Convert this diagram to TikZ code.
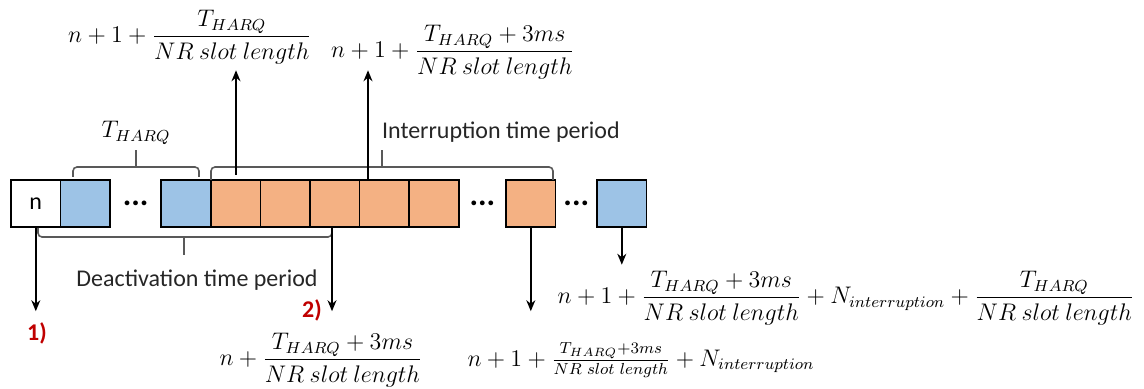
\documentclass[tikz,border=0pt]{standalone}
\usepackage{amsmath}
\usepackage{fontspec}
\setmainfont{Carlito}
\usetikzlibrary{arrows.meta,positioning,calc}

\definecolor{slotblue}{HTML}{9DC3E6}
\definecolor{slotorange}{HTML}{F4B183}
\definecolor{labelred}{HTML}{C00000}

\tikzset{
	slot/.style={draw, line width=0.8pt, minimum width=24.8pt, minimum height=23.5pt, inner sep=0pt, outer sep=0pt, font=\fontsize{12}{14}\selectfont},
	harq/.style={slot, fill=slotblue},
	intr/.style={slot, fill=slotorange},
	dots/.style={font=\bfseries\fontsize{16}{16}\selectfont, inner sep=0pt},
	bracket/.style={draw=black!65, line width=0.8pt, rounded corners=2pt},
	arr/.style={-{Stealth[length=5.5pt,width=4.5pt]}, line width=0.7pt, shorten >=2pt},
	formula/.style={font=\fontsize{12}{14}\selectfont, inner sep=1pt},
	caption/.style={font=\fontsize{12}{14}\selectfont, text=black!85},
	stepnum/.style={text=labelred, font=\bfseries\fontsize{12}{14}\selectfont}
}

\begin{document}
\begin{tikzpicture}[x=0.5pt, y=-0.5pt]
		\useasboundingbox (0,0) rectangle (1144,389);
		% slots
		\node[slot] (s0) at (35.8,203.5) {n};
		\node[harq, right=0pt of s0] (s1) {};
		\node[harq, right=25.5pt of s1] (s2) {};
		\node[intr, right=0pt of s2] (o1) {};
		\foreach \i [count=\j from 2] in {1,...,4}{
			\node[intr, right=0pt of o\i] (o\j) {};
		}
		\node[intr, right=23.6pt of o5] (o6) {};
		\node[harq, right=20.7pt of o6] (s3) {};
		\node[dots] (d1) at ($(s1.east)!0.5!(s2.west)$) {...};
		\node[dots] (d2) at ($(o5.east)!0.5!(o6.west)$) {...};
		\node[dots] (d3) at ($(o6.east)!0.5!(s3.west)$) {...};

		% brackets
		\draw[bracket] (73,177) -- (73,167) -- (199,167) -- (199,177);
		\draw[bracket] (136,167) -- (136,150);
		\node[formula] (tharq) at (136,133) {$T_{HARQ}$};
		\draw[bracket] (211,180) -- (211,167) -- (553,167) -- (553,180);
		\draw[bracket] (382,167) -- (382,150);
		\node[caption, anchor=west] (intlbl) at (375,132) {Interruption time period};
		\draw[bracket] (38,228) -- (38,237) -- (332,237) -- (332,228);
		\draw[bracket] (184,237) -- (184,255);
		\node[caption] (deaclbl) at (197,280) {Deactivation time period};

		% formulas
		\node[formula] (f1) at (190,37) {$n+1+\dfrac{T_{HARQ}}{NR\ slot\ length}$};
		\node[formula] (f2) at (453,52) {$n+1+\dfrac{T_{HARQ}+3ms}{NR\ slot\ length}$};
		\node[formula] (f3) at (846,298) {$n+1+\dfrac{T_{HARQ}+3ms}{NR\ slot\ length}+N_{interruption}+\dfrac{T_{HARQ}}{NR\ slot\ length}$};
		\node[formula] (f4) at (641,360) {$n+1+\frac{T_{HARQ}+3ms}{NR\ slot\ length}+N_{interruption}$};
		\node[formula] (f5) at (321,360) {$n+\dfrac{T_{HARQ}+3ms}{NR\ slot\ length}$};
		\node[stepnum] (l1) at (37,333) {1)};
		\node[stepnum] (l2) at (312,310) {2)};

		% arrows
		\coordinate (u1) at (236,175);
		\coordinate (u2) at (368,180);
		\coordinate (v2) at (332,227);
		\draw[arr] (u1) -- (u1 |- f1.south);
		\draw[arr] (u2) -- (u2 |- f1.south);
		\draw[arr] (s0.south) -- (s0.south |- l1.north);
		\draw[arr] (v2) -- (v2 |- l1.north);
		\draw[arr] (o6.south) -- (o6.south |- l1.north);
		\draw[arr] (s3.south) -- (s3.south |- f3.north);
	\end{tikzpicture}
\end{document}
